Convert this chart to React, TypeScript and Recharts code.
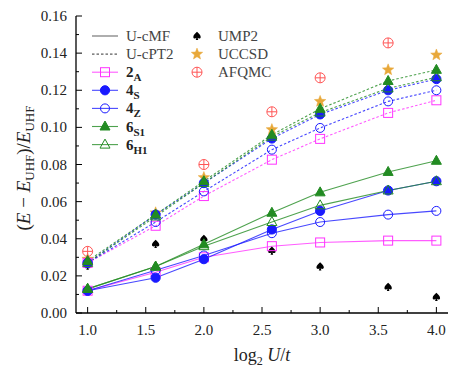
import { ComposedChart, Line, Scatter, XAxis, YAxis, Legend } from 'recharts';

// log2(U/t) for U/t = 2, 3, 4, 6, 8, 12, 16
const logU = [1, 1.585, 2, 2.585, 3, 3.585, 4];

// U-cMF (solid)
const cmf2A = [0.012, 0.022, 0.030, 0.036, 0.038, 0.039, 0.039];
const cmf4S = [0.012, 0.019, 0.029, 0.045, 0.055, 0.066, 0.071];
const cmf4Z = [0.012, 0.023, 0.031, 0.043, 0.049, 0.053, 0.055];
const cmf6S1 = [0.013, 0.025, 0.037, 0.054, 0.065, 0.076, 0.082];
const cmf6H1 = [0.013, 0.025, 0.036, 0.049, 0.058, 0.066, 0.071];

// U-cPT2 (dashed)
const pt2A = [0.027, 0.047, 0.063, 0.0826, 0.0938, 0.1078, 0.1146];
const pt4S = [0.027, 0.053, 0.070, 0.094, 0.107, 0.120, 0.126];
const pt4Z = [0.027, 0.049, 0.0655, 0.088, 0.0997, 0.114, 0.120];
const pt6S1 = [0.028, 0.053, 0.071, 0.096, 0.110, 0.125, 0.131];
const pt6H1 = [0.027, 0.052, 0.070, 0.095, 0.108, 0.121, 0.127];

// reference methods
const ump2 = [0.0255, 0.0372, 0.0399, 0.0336, 0.0251, 0.014, 0.0086];
const uccsd = [0.029, 0.054, 0.073, 0.0988, 0.114, 0.131, 0.139];
const afqmc = [0.0332, null, 0.080, 0.1084, 0.1267, 0.1455, null];

const xTicks = [1, 1.25, 1.5, 1.75, 2, 2.25, 2.5, 2.75, 3, 3.25, 3.5, 3.75, 4];
const yTicks = [0, 0.01, 0.02, 0.03, 0.04, 0.05, 0.06, 0.07, 0.08, 0.09, 0.1, 0.11, 0.12, 0.13, 0.14, 0.15, 0.16];

const rows = logU.map((x, i) => ({
    x,
    cmf2A: cmf2A[i],
    cmf4S: cmf4S[i],
    cmf4Z: cmf4Z[i],
    cmf6S1: cmf6S1[i],
    cmf6H1: cmf6H1[i],
    pt2A: pt2A[i],
    pt4S: pt4S[i],
    pt4Z: pt4Z[i],
    pt6S1: pt6S1[i],
    pt6H1: pt6H1[i],
    ump2: ump2[i],
    uccsd: uccsd[i],
    afqmc: afqmc[i],
}));

const FONT = "'Liberation Serif', 'DejaVu Serif', serif";
const MAGENTA = '#ff33ff';
const BLUE = '#1a1aff';
const GREEN = '#228b22';

type Kind = 'square' | 'circle' | 'ocircle' | 'tri' | 'otri' | 'spade' | 'star' | 'oplus';

const series = [
    { key: '2A', color: MAGENTA, kind: 'square' as Kind },
    { key: '4S', color: BLUE, kind: 'circle' as Kind },
    { key: '4Z', color: BLUE, kind: 'ocircle' as Kind },
    { key: '6S1', color: GREEN, kind: 'tri' as Kind },
    { key: '6H1', color: GREEN, kind: 'otri' as Kind },
];

function starPath(cx: number, cy: number, ro: number, ri: number) {
    let d = '';
    for (let k = 0; k < 10; k++) {
        const r = k % 2 === 0 ? ro : ri;
        const a = -Math.PI / 2 + (k * Math.PI) / 5;
        d += `${k === 0 ? 'M' : 'L'}${cx + r * Math.cos(a)},${cy + r * Math.sin(a)}`;
    }
    return d + 'Z';
}

function Marker({ kind, cx, cy, color }: { kind: Kind; cx?: number; cy?: number; color: string }) {
    if (cx == null || cy == null || Number.isNaN(cx) || Number.isNaN(cy)) return null;
    switch (kind) {
        case 'square':
            return <rect x={cx - 4.5} y={cy - 4.5} width={9} height={9} fill="none" stroke={color} strokeWidth={1} />;
        case 'circle':
            return <circle cx={cx} cy={cy} r={4.6} fill={color} stroke={color} />;
        case 'ocircle':
            return <circle cx={cx} cy={cy} r={4.5} fill="none" stroke={color} strokeWidth={1} />;
        case 'tri':
        case 'otri':
            return (
                <path
                    d={`M${cx},${cy - 5.5}L${cx + 5},${cy + 3.5}L${cx - 5},${cy + 3.5}Z`}
                    fill={kind === 'tri' ? color : 'none'}
                    stroke={color}
                    strokeWidth={1}
                />
            );
        case 'spade':
            return (
                <path
                    transform={`translate(${cx},${cy})`}
                    d="M0,-4.2 C1.7,-2.3 3.7,-1 3.7,0.9 C3.7,2.6 1.7,3 0.6,1.8 L1.3,4 L-1.3,4 L-0.6,1.8 C-1.7,3 -3.7,2.6 -3.7,0.9 C-3.7,-1 -1.7,-2.3 0,-4.2 Z"
                    fill="#000"
                />
            );
        case 'star':
            return <path d={starPath(cx, cy, 6, 2.6)} fill="#e8a83a" stroke="#e8a83a" strokeWidth={0.5} />;
        case 'oplus':
            return (
                <g stroke="#ff5555" strokeWidth={1} fill="none">
                    <circle cx={cx} cy={cy} r={5} />
                    <line x1={cx - 5} y1={cy} x2={cx + 5} y2={cy} />
                    <line x1={cx} y1={cy - 5} x2={cx} y2={cy + 5} />
                </g>
            );
    }
    return null;
}

const isMajor = (v: number, step: number) => Math.abs(v / step - Math.round(v / step)) < 1e-6;

function BottomTick(props: any) {
    const { x, y, payload } = props;
    const major = isMajor(payload.value, 0.5);
    return (
        <g>
            <line x1={x} y1={y} x2={x} y2={y - (major ? 6 : 3)} stroke="#000" />
            {major && (
                <text x={x} y={y + 22} textAnchor="middle" style={{ fontFamily: FONT }} fontSize={15} fill="#222">
                    {payload.value.toFixed(1)}
                </text>
            )}
        </g>
    );
}

function TopTick(props: any) {
    const { x, y, payload } = props;
    const major = isMajor(payload.value, 0.5);
    return <line x1={x} y1={y} x2={x} y2={y + (major ? 6 : 3)} stroke="#000" />;
}

function LeftTick(props: any) {
    const { x, y, payload } = props;
    const major = isMajor(payload.value, 0.02);
    return (
        <g>
            <line x1={x} y1={y} x2={x + (major ? 6 : 3)} y2={y} stroke="#000" />
            {major && (
                <text x={x - 9} y={y + 5} textAnchor="end" style={{ fontFamily: FONT }} fontSize={15} fill="#222">
                    {payload.value.toFixed(2)}
                </text>
            )}
        </g>
    );
}

function RightTick(props: any) {
    const { x, y, payload } = props;
    const major = isMajor(payload.value, 0.02);
    return <line x1={x} y1={y} x2={x - (major ? 6 : 3)} y2={y} stroke="#000" />;
}

function YLabel() {
    return (
        <text transform="translate(30,168) rotate(-90)" textAnchor="middle" style={{ fontFamily: FONT }} fontSize={19} fill="#222">
            (<tspan fontStyle="italic">E</tspan> − <tspan fontStyle="italic">E</tspan>
            <tspan fontSize={13} dy={4}>UHF</tspan>
            <tspan dy={-4}>)/</tspan>
            <tspan fontStyle="italic">E</tspan>
            <tspan fontSize={13} dy={4}>UHF</tspan>
        </text>
    );
}

function XLabel() {
    return (
        <text x={262} y={361} textAnchor="middle" style={{ fontFamily: FONT }} fontSize={18} fill="#222">
            log<tspan fontSize={12} dy={4}>2</tspan>
            <tspan dy={-4} fontStyle="italic"> U</tspan>/<tspan fontStyle="italic">t</tspan>
        </text>
    );
}

const leftItems = ['U-cMF', 'U-cPT2'];
const refItems = [
    { label: 'UMP2', kind: 'spade' as Kind },
    { label: 'UCCSD', kind: 'star' as Kind },
    { label: 'AFQMC', kind: 'oplus' as Kind },
];

function LegendBox() {
    const rowY = (i: number) => 10 + 18.1 * i;
    const txt = { style: { fontFamily: FONT }, fontSize: 15, fill: '#444' };
    return (
        <svg width={220} height={140} style={{ overflow: 'visible' }}>
            <line x1={4} y1={rowY(0)} x2={30} y2={rowY(0)} stroke="#777" strokeWidth={1.2} />
            <text x={38} y={rowY(0) + 5} {...txt}>{leftItems[0]}</text>
            <line x1={4} y1={rowY(1)} x2={30} y2={rowY(1)} stroke="#333" strokeWidth={1} strokeDasharray="2.5 2" />
            <text x={38} y={rowY(1) + 5} {...txt}>{leftItems[1]}</text>
            {series.map((s, i) => {
                const y = rowY(i + 2);
                const sub = s.key.slice(1);
                return (
                    <g key={s.key}>
                        <line x1={4} y1={y} x2={30} y2={y} stroke={s.color} strokeOpacity={0.8} strokeWidth={1.1} />
                        <Marker kind={s.kind} cx={17} cy={y} color={s.color} />
                        <text x={38} y={y + 5} {...txt} fontWeight="bold" fill="#222">
                            {s.key[0]}
                            <tspan fontSize={11} dy={4}>{sub}</tspan>
                        </text>
                    </g>
                );
            })}
            {refItems.map((r, i) => (
                <g key={r.label}>
                    <Marker kind={r.kind} cx={109} cy={rowY(i)} color="#000" />
                    <text x={130} y={rowY(i) + 5} {...txt}>{r.label}</text>
                </g>
            ))}
        </svg>
    );
}

export default function App() {
    return (
        <div style={{ position: 'absolute', left: 0, top: 0, background: '#fff' }}>
            <ComposedChart width={464} height={375} data={rows} margin={{ top: 16, right: 16, bottom: 22, left: 16 }}>
                <XAxis
                    dataKey="x"
                    type="number"
                    domain={[0.9, 4.1]}
                    allowDataOverflow
                    ticks={xTicks}
                    interval={0}
                    tickSize={0}
                    tickMargin={0}
                    tickLine={false}
                    tick={<BottomTick />}
                    height={40}
                    axisLine={{ stroke: '#000', strokeWidth: 1.3 }}
                    label={<XLabel />}
                />
                <XAxis
                    xAxisId="top"
                    orientation="top"
                    type="number"
                    domain={[0.9, 4.1]}
                    allowDataOverflow
                    ticks={xTicks}
                    interval={0}
                    tickSize={0}
                    tickMargin={0}
                    tickLine={false}
                    tick={<TopTick />}
                    height={0}
                    axisLine={{ stroke: '#000', strokeWidth: 1.3 }}
                />
                <YAxis
                    type="number"
                    domain={[0, 0.16]}
                    allowDataOverflow
                    ticks={yTicks}
                    interval={0}
                    tickSize={0}
                    tickMargin={0}
                    tickLine={false}
                    tick={<LeftTick />}
                    width={60}
                    axisLine={{ stroke: '#000', strokeWidth: 1.3 }}
                    label={<YLabel />}
                />
                <YAxis
                    yAxisId="right"
                    orientation="right"
                    type="number"
                    domain={[0, 0.16]}
                    allowDataOverflow
                    ticks={yTicks}
                    interval={0}
                    tickSize={0}
                    tickMargin={0}
                    tickLine={false}
                    tick={<RightTick />}
                    width={0}
                    axisLine={{ stroke: '#000', strokeWidth: 1.3 }}
                />
                <Legend
                    layout="horizontal"
                    verticalAlign="middle"
                    align="center"
                    wrapperStyle={{ left: 88, top: 26, width: 220, height: 140 }}
                    content={() => <LegendBox />}
                />
                {series.map((s) => (
                    <Line
                        key={`cmf${s.key}`}
                        dataKey={`cmf${s.key}`}
                        type="linear"
                        stroke={s.color}
                        strokeOpacity={0.8}
                        strokeWidth={1.1}
                        activeDot={false}
                        isAnimationActive={false}
                        dot={(p: any) => <Marker key={`cmf${s.key}-${p.index}`} kind={s.kind} cx={p.cx} cy={p.cy} color={s.color} />}
                    />
                ))}
                {series.map((s) => (
                    <Line
                        key={`pt${s.key}`}
                        dataKey={`pt${s.key}`}
                        type="linear"
                        stroke={s.color}
                        strokeOpacity={0.8}
                        strokeWidth={1.1}
                        strokeDasharray="2.5 2"
                        activeDot={false}
                        isAnimationActive={false}
                        dot={(p: any) => <Marker key={`pt${s.key}-${p.index}`} kind={s.kind} cx={p.cx} cy={p.cy} color={s.color} />}
                    />
                ))}
                {refItems.map((r, i) => {
                    const key = ['ump2', 'uccsd', 'afqmc'][i];
                    return (
                        <Scatter
                            key={key}
                            dataKey={key}
                            isAnimationActive={false}
                            shape={(p: any) => <Marker kind={r.kind} cx={p.cx} cy={p.cy} color="#000" />}
                        />
                    );
                })}
            </ComposedChart>
        </div>
    );
}
